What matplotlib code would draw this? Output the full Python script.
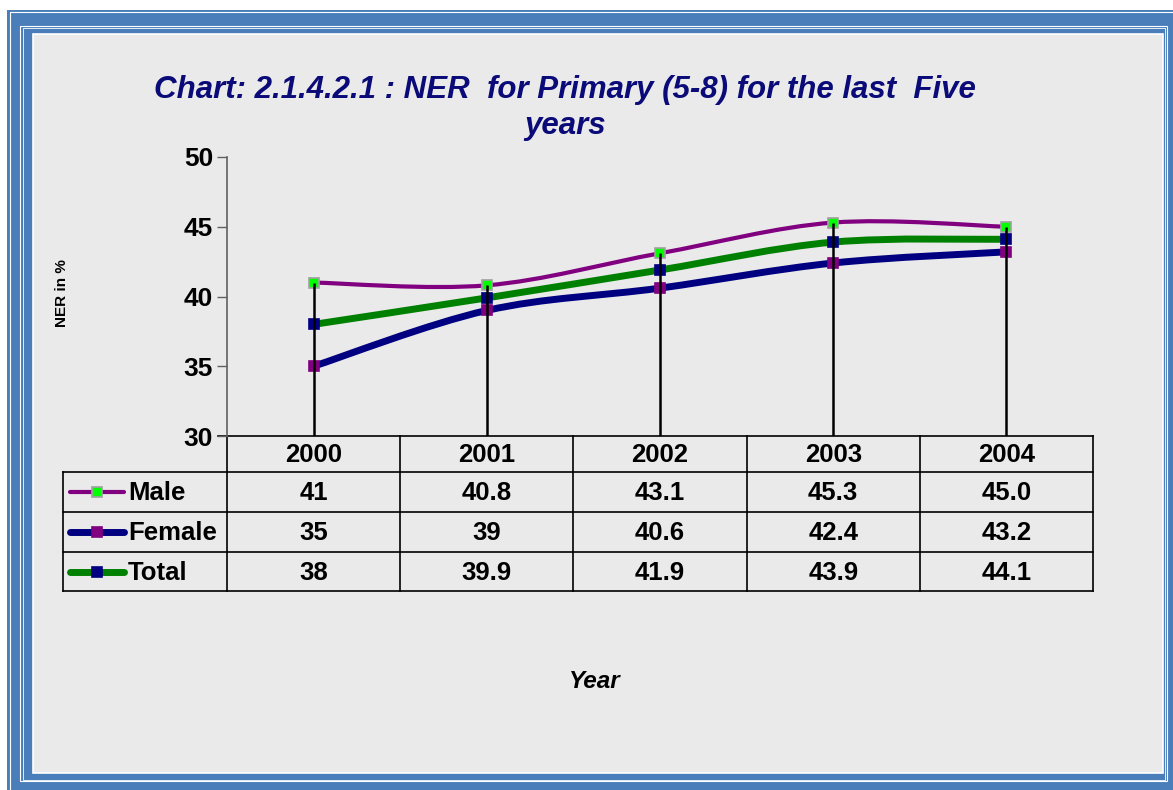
import numpy as np
import matplotlib
matplotlib.use("Agg")
import matplotlib.pyplot as plt
from matplotlib.path import Path
from matplotlib.patches import PathPatch, Rectangle
from matplotlib.lines import Line2D

plt.rcParams['font.family'] = ['Liberation Sans', 'DejaVu Sans']

# data
years = ["2000", "2001", "2002", "2003", "2004"]
male = [41, 40.8, 43.1, 45.3, 45.0]
female = [35, 39, 40.6, 42.4, 43.2]
total = [38, 39.9, 41.9, 43.9, 44.1]
male_txt = ["41", "40.8", "43.1", "45.3", "45.0"]
female_txt = ["35", "39", "40.6", "42.4", "43.2"]
total_txt = ["38", "39.9", "41.9", "43.9", "44.1"]
y_ticks = [30, 35, 40, 45, 50]

W, H = 1173, 790
fig = plt.figure(figsize=(W / 100, H / 100), dpi=100)
fig.patch.set_facecolor('white')

# background / frame axes in pixel coords
bg = fig.add_axes([0, 0, 1, 1], zorder=0)
bg.set_xlim(0, W)
bg.set_ylim(H, 0)
bg.axis('off')

blue = '#4a7ebb'
bg.add_patch(Rectangle((7, 10), 1200, 800, facecolor=blue, edgecolor='none'))
bg.add_patch(Rectangle((10, 12), 1200, 800, facecolor='none', edgecolor='white', lw=0.8))
bg.add_patch(Rectangle((20, 26), 1147, 755, facecolor='none', edgecolor='white', lw=0.8))
bg.add_patch(Rectangle((23, 28), 1142, 752, facecolor='none', edgecolor='white', lw=0.6))
bg.add_patch(Rectangle((33, 34), 1130, 739, facecolor='#eaeaea', edgecolor='white', lw=1.2))


def smooth_path(xs, ys):
    pts = np.column_stack([xs, ys]).astype(float)
    n = len(pts)
    verts = [pts[0]]
    codes = [Path.MOVETO]
    for i in range(n - 1):
        p0 = pts[max(i - 1, 0)]
        p1 = pts[i]
        p2 = pts[i + 1]
        p3 = pts[min(i + 2, n - 1)]
        verts += [p1 + (p2 - p0) / 6, p2 - (p3 - p1) / 6, p2]
        codes += [Path.CURVE4] * 3
    return Path(verts, codes)


# chart axes
x0, x1, ytop, ybot = 227, 1093, 157, 436
ax = fig.add_axes([x0 / W, 1 - ybot / H, (x1 - x0) / W, (ybot - ytop) / H], zorder=2)
ax.patch.set_alpha(0)
xs = np.arange(len(years))
ax.set_xlim(-0.5, len(years) - 0.5)
ax.set_ylim(30, 50)
ax.set_yticks(y_ticks)
ax.set_yticklabels([str(t) for t in y_ticks], fontsize=19, fontweight='bold')
ax.tick_params(axis='y', length=7, width=1, color='#606060', pad=3)
ax.set_xticks([])
for s in ['top', 'right', 'bottom']:
    ax.spines[s].set_visible(False)
ax.spines['left'].set_color('#606060')
ax.spines['left'].set_linewidth(1.2)

series = [
    (total, '#008000', 5.0, '#000080', '#000080'),
    (female, '#000080', 5.0, '#800080', '#800080'),
    (male, '#800080', 3.0, '#00ff00', '#a0a0a0'),
]
for vals, lc, lw, mc, me in series:
    ax.add_patch(PathPatch(smooth_path(xs, vals), fill=False, edgecolor=lc, lw=lw,
                           capstyle='round', zorder=3))
for vals, lc, lw, mc, me in series:
    ax.plot(xs, vals, linestyle='none', marker='s', markersize=7.5,
            markerfacecolor=mc, markeredgecolor=me, markeredgewidth=1.2, zorder=4)

# drop lines (drawn over the markers)
tops = np.max([male, female, total], axis=0)
ax.vlines(xs, 30, tops, color='black', lw=1.8, zorder=5)

# title and labels
fig.text(565 / W, 1 - 90 / H, "Chart: 2.1.4.2.1 : NER  for Primary (5-8) for the last  Five",
         ha='center', va='center', fontsize=22.5, fontweight='bold', style='italic', color='#0a0a78')
fig.text(565 / W, 1 - 126 / H, "years", ha='center', va='center', fontsize=22.5,
         fontweight='bold', style='italic', color='#0a0a78')
fig.text(62 / W, 1 - 293 / H, "NER in %", rotation=90, ha='center', va='center',
         fontsize=11, fontweight='bold')
fig.text(595 / W, 1 - 681 / H, "Year", ha='center', va='center', fontsize=17.5,
         fontweight='bold', style='italic')

# data table
col_w = (x1 - x0) / len(years)
rows_y = [436, 472, 512, 552, 591]
lkw = dict(color='black', lw=1.2, zorder=3)
bg.plot([218, x1], [436, 436], **lkw)
for y in rows_y[1:]:
    bg.plot([63, x1], [y, y], **lkw)
bg.plot([63, 63], [472, 591], **lkw)
for i in range(len(years) + 1):
    bg.plot([x0 + i * col_w] * 2, [436, 591], **lkw)

fs = 18.5
for i, yr in enumerate(years):
    cx = x0 + (i + 0.5) * col_w
    bg.text(cx, 455, yr, ha='center', va='center', fontsize=fs, fontweight='bold', zorder=4)
    for txt, (ya, yb) in zip([male_txt[i], female_txt[i], total_txt[i]],
                             zip(rows_y[1:-1], rows_y[2:])):
        bg.text(cx, (ya + yb) / 2 + 1, txt, ha='center', va='center', fontsize=fs,
                fontweight='bold', zorder=4)

legend_rows = [("Male", '#800080', 3.0, '#00ff00', '#a0a0a0'),
               ("Female", '#000080', 5.0, '#800080', '#800080'),
               ("Total", '#008000', 5.0, '#000080', '#000080')]
for (name, lc, lw, mc, me), ya, yb in zip(legend_rows, rows_y[1:-1], rows_y[2:]):
    yc = (ya + yb) / 2
    bg.add_line(Line2D([70, 124], [yc, yc], color=lc, lw=lw, solid_capstyle='round', zorder=4))
    bg.plot([97], [yc], marker='s', markersize=7.5, markerfacecolor=mc,
            markeredgecolor=me, markeredgewidth=1.2, zorder=5)
    bg.text(128, yc + 1, name, ha='left', va='center', fontsize=fs, fontweight='bold', zorder=4)

fig.savefig('out.png', dpi=100, facecolor=fig.get_facecolor())
